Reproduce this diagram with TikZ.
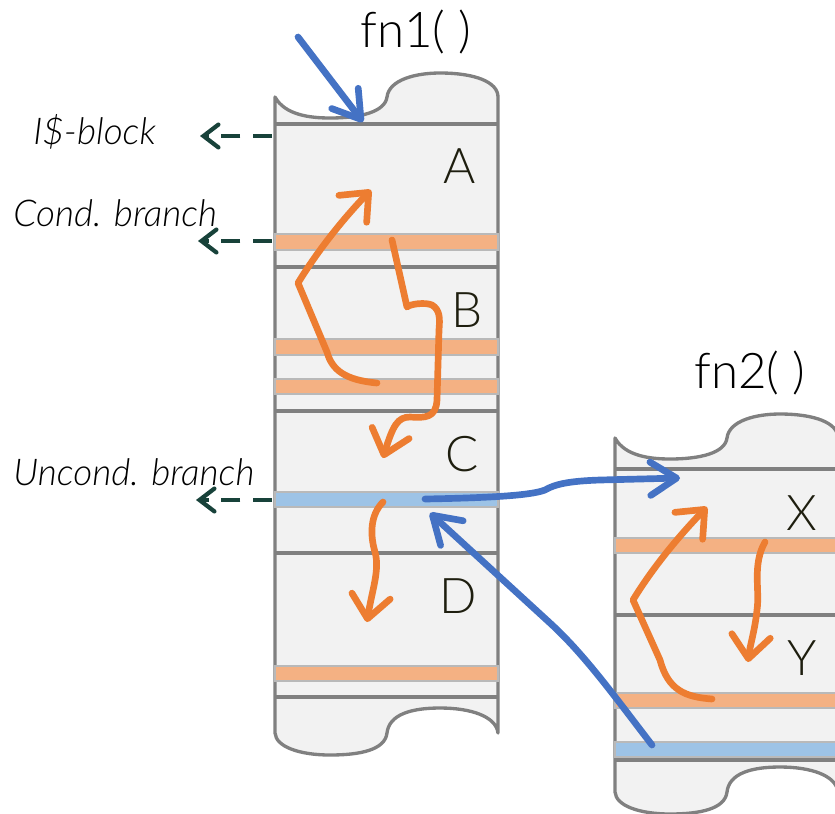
\documentclass[tikz,border=0pt]{standalone}
\usepackage{fontspec}
\setmainfont{Lato Light}
\usetikzlibrary{arrows.meta}

\definecolor{paperfill}{RGB}{242,242,242}
\definecolor{paperline}{RGB}{128,128,128}
\definecolor{bandorange}{RGB}{244,177,131}
\definecolor{bandblue}{RGB}{157,195,230}
\definecolor{floworange}{RGB}{237,125,49}
\definecolor{flowblue}{RGB}{68,114,196}
\definecolor{noteteal}{RGB}{24,66,58}
\definecolor{lettercol}{RGB}{30,30,15}

\tikzset{
  paper/.style={fill=paperfill, draw=paperline, line width=1.9pt, line join=round},
  sepline/.style={draw=paperline, line width=1.9pt},
  orband/.style={fill=bandorange, draw=paperline!55, line width=0.8pt},
  blband/.style={fill=bandblue, draw=paperline!55, line width=0.8pt},
  orflow/.style={draw=floworange, line width=3.8pt, line cap=round, line join=round,
    -{Straight Barb[length=13pt,width=22pt,line cap=round,line join=round]}},
  blflow/.style={draw=flowblue, line width=3.8pt, line cap=round, line join=round,
    -{Straight Barb[length=15pt,width=19pt,line cap=round,line join=round]}},
  noteflow/.style={draw=noteteal, line width=2.4pt, dash pattern=on 11pt off 7pt,
    -{Straight Barb[length=8.5pt,width=13pt,line cap=round]}},
  letter/.style={text=lettercol, anchor=base, inner sep=0pt, font=\fontsize{28}{30}\selectfont},
  fntitle/.style={anchor=base, inner sep=0pt, font=\fontsize{28}{30}\selectfont},
  note/.style={anchor=west, inner sep=0pt, font=\itshape\fontsize{21}{24}\selectfont}
}

\begin{document}
\begin{tikzpicture}[x=0.2mm, y=-0.2mm]
  \useasboundingbox (0,0) rectangle (835,813);
  \clip (0,0) rectangle (835,813);
  \begin{scope}[shift={(275,97)}]
    \filldraw[paper] (0,0) .. controls (10,18) and (35,21) .. (55,21) .. controls (85,21) and (110,15) .. (112,0)
      .. controls (114,-17) and (140,-24) .. (165,-24) .. controls (200,-24) and (223,-15) .. (223,0)
      -- (223,636) .. controls (221,619) and (195,611) .. (165,611) .. controls (135,611) and (114,618) .. (112,636)
      .. controls (110,653) and (85,658) .. (55,658) .. controls (25,658) and (1,650) .. (0,636) -- cycle;
    \draw[sepline] (0,27) -- (223,27);
    \draw[sepline] (0,170) -- (223,170);
    \draw[sepline] (0,314) -- (223,314);
    \draw[sepline] (0,456) -- (223,456);
    \draw[sepline] (0,600) -- (223,600);
    \filldraw[orband] (0,137) rectangle (223,153);
    \filldraw[orband] (0,242) rectangle (223,258);
    \filldraw[orband] (0,282) rectangle (223,297);
    \filldraw[blband] (0,395) rectangle (223,410);
    \filldraw[orband] (0,569) rectangle (223,584);
    \node[letter] (lblA) at (185,86) {A};
    \node[letter] (lblB) at (192,230) {B};
    \node[letter] (lblC) at (187,374) {C};
    \node[letter] (lblD) at (183,516) {D};
  \end{scope}
  \begin{scope}[shift={(615,438)}]
    \filldraw[paper] (0,0) .. controls (10,18) and (35,21) .. (55,21) .. controls (85,21) and (110,15) .. (112,0)
      .. controls (114,-17) and (140,-24) .. (165,-24) .. controls (200,-24) and (223,-15) .. (223,0)
      -- (223,354) .. controls (221,337) and (195,329) .. (165,329) .. controls (135,329) and (114,336) .. (112,354)
      .. controls (110,371) and (85,376) .. (55,376) .. controls (25,376) and (1,368) .. (0,354) -- cycle;
    \draw[sepline] (0,31) -- (223,31);
    \draw[sepline] (0,177) -- (223,177);
    \draw[sepline] (0,322) -- (223,322);
    \filldraw[orband] (0,100) rectangle (223,115);
    \filldraw[orband] (0,255) rectangle (223,270);
    \filldraw[blband] (0,304) rectangle (223,319);
    \node[letter] (lblX) at (187,92) {X};
    \node[letter] (lblY) at (187,237) {Y};
  \end{scope}
  \node[fntitle] (fn1title) at (416,47) {fn1( )};
  \node[fntitle] (fn2title) at (750,388) {fn2( )};
  \node[note] (noteblock) at (33,132) {I\$-block};
  \node[note] (notecond) at (13,213) {Cond. branch};
  \node[note] (noteuncond) at (13,472) {Uncond. branch};
  \coordinate (blockedge) at (272,136);
  \coordinate (blocktip) at (200,136);
  \coordinate (condedge) at (272,241);
  \coordinate (condtip) at (198,241);
  \coordinate (uncondedge) at (272,500);
  \coordinate (uncondtip) at (196,500);
  \draw[noteflow] (blockedge) -- (blocktip);
  \draw[noteflow] (condedge) -- (condtip);
  \draw[noteflow] (uncondedge) -- (uncondtip);
  \coordinate (entrytail) at (298,37);
  \coordinate (entrytip) at (363,122);
  \coordinate (calltail) at (425,499);
  \coordinate (calltip) at (680,478);
  \coordinate (rettail) at (652,745);
  \coordinate (rettip) at (430,513);
  \draw[blflow] (entrytail) -- (entrytip);
  \draw[blflow] (calltail) .. controls (480,498) and (530,496) .. (545,490)
    .. controls (555,484) and (570,481) .. (600,480) -- (calltip);
  \draw[blflow] (rettail) .. controls (615,697) and (585,655) .. (550,623) -- (rettip);
  \coordinate (backAtail) at (377,383);
  \coordinate (backAtip) at (371,190);
  \coordinate (skipBtail) at (392,240);
  \coordinate (skipBtip) at (383,458);
  \coordinate (fallDtail) at (383,502);
  \coordinate (fallDtip) at (367,622);
  \coordinate (backXtail) at (712,699);
  \coordinate (backXtip) at (707,507);
  \coordinate (skipYtail) at (765,542);
  \coordinate (skipYtip) at (748,662);
  \draw[orflow] (backAtail) .. controls (345,380) and (332,370) .. (327,352) -- (298,283)
    .. controls (315,255) and (340,222) .. (backAtip);
  \draw[orflow] (skipBtail) -- (407,307) .. controls (410,304) and (425,302) .. (432,305)
    .. controls (440,310) and (440,318) .. (439,330) -- (437,400)
    .. controls (436,418) and (425,418) .. (410,417) .. controls (398,417) and (393,425) .. (skipBtip);
  \draw[orflow] (fallDtail) .. controls (370,515) and (370,535) .. (375,552)
    .. controls (380,570) and (372,590) .. (fallDtip);
  \draw[orflow] (backXtail) .. controls (685,697) and (668,690) .. (660,660) -- (633,600)
    .. controls (650,572) and (675,540) .. (backXtip);
  \draw[orflow] (skipYtail) .. controls (752,565) and (760,590) .. (757,610)
    .. controls (755,630) and (750,645) .. (skipYtip);
\end{tikzpicture}
\end{document}
